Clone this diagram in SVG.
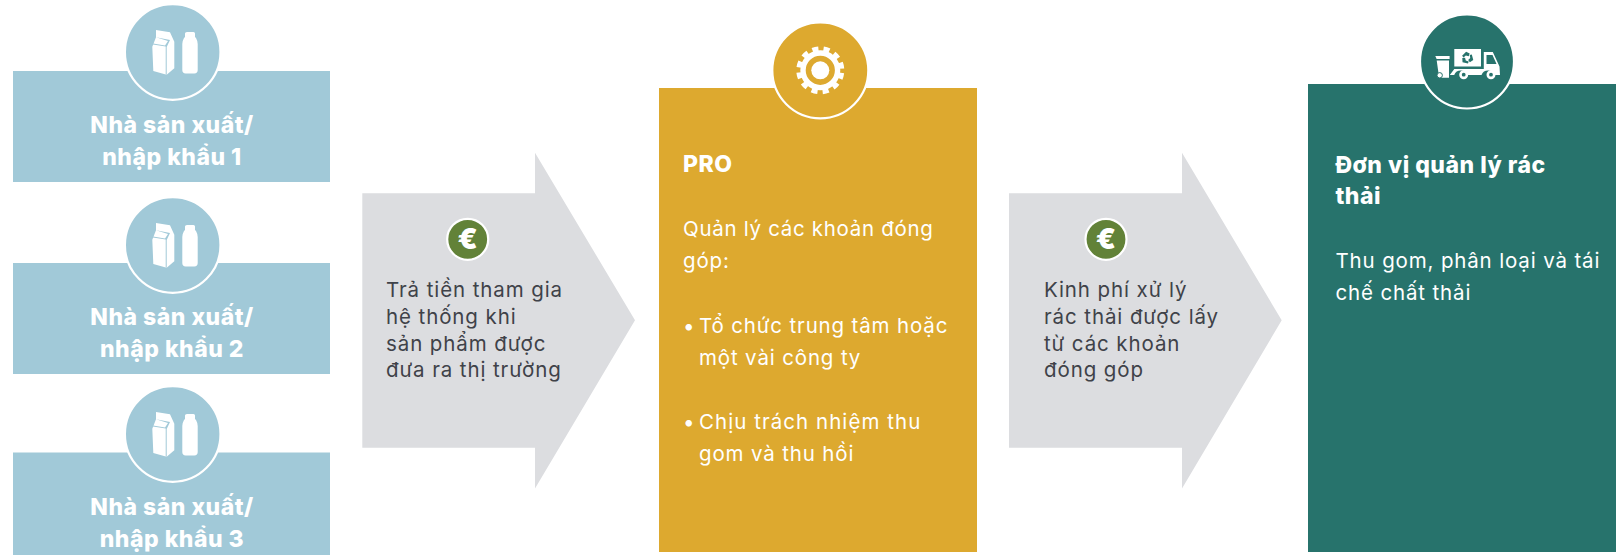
<svg xmlns="http://www.w3.org/2000/svg" width="1616" height="555" viewBox="0 0 1616 555">
<style>
text{font-family:Inter,"Noto Sans","Liberation Sans",sans-serif}
.h{font-size:23px;font-weight:800;fill:#fff;letter-spacing:.5px}
.c{text-anchor:middle}
.b{font-size:20.500px;fill:#fff;letter-spacing:.85px}
.a{font-size:20.500px;fill:#3f4249;letter-spacing:.9px}
.ring{stroke:#fff;stroke-width:2.200}
.blue{fill:#a1c9d8}.gold{fill:#dda92f}.teal{fill:#27736c}.grey{fill:#dcdde0}.green{fill:#628238}
</style>
<defs>
<g id="pack">
<path fill="#fff" d="M156 30 170 32.300 174.300 41.700V68.300L166.700 74.700 153.300 71 152.300 46.700 156 37.300Z"/>
<path fill="#a1c9d8" d="M156 37.300 170 40 166.700 47V74.700H165.700V46.500L153 44.500 153 43.500 165 45.500 168 41Z"/>
<path fill="#fff" d="M187 32h6.500q1.500 0 1.500 1.500V37l1 1q1.700 3 1.700 6v26q0 3.400-3.400 3.400H185.700q-3.400 0-3.400-3.400V44q0-3 1.700-6l1-1V33.500q0-1.500 2-1.500Z"/>
</g>
<g id="coin">
<circle r="20.500" class="green ring"/>
<text y="10" class="c" style="font-size:29px;font-weight:900;fill:#fff;letter-spacing:0">€</text>
</g>
<path id="rec" class="teal" d="M-1.200-6.200 2.400-4.400 1.400-1.800-1.400-2.600-3.800-.6-5.200-2.200Z"/>
</defs>
<g id="connectors">
<path id="arrow-1" class="grey" d="M362.300 193.300H535V152.700L635 320.300 535 488.500V447.700H362.300Z"/>
<path id="arrow-2" class="grey" d="M1009 193.300H1182V152.700L1281.700 320.300 1182 488.500V447.700H1009Z"/>
</g>
<g id="producer-1">
<rect class="blue" x="13" y="71" width="317" height="111"/>
<circle class="blue ring" cx="172.700" cy="52" r="47.800"/>
<use href="#pack"/>
<text class="h c" x="172" y="133">Nhà sản xuất/</text>
<text class="h c" x="172" y="165">nhập khẩu 1</text>
</g>
<g id="producer-2">
<rect class="blue" x="13" y="263" width="317" height="111"/>
<circle class="blue ring" cx="172.700" cy="245" r="47.800"/>
<use href="#pack" y="193"/>
<text class="h c" x="172" y="325">Nhà sản xuất/</text>
<text class="h c" x="172" y="357">nhập khẩu 2</text>
</g>
<g id="producer-3">
<rect class="blue" x="13" y="452.500" width="317" height="102.500"/>
<circle class="blue ring" cx="172.700" cy="434" r="47.800"/>
<use href="#pack" y="382"/>
<text class="h c" x="172" y="515">Nhà sản xuất/</text>
<text class="h c" x="172" y="547">nhập khẩu 3</text>
</g>
<g id="payment-1">
<use href="#coin" x="467.700" y="239.300"/>
<text class="a" x="386" y="297">Trả tiền tham gia</text>
<text class="a" x="386" y="324">hệ thống khi</text>
<text class="a" x="386" y="351">sản phẩm được</text>
<text class="a" x="386" y="377">đưa ra thị trường</text>
</g>
<g id="payment-2">
<use href="#coin" x="1106" y="239.300"/>
<text class="a" x="1044" y="297">Kinh phí xử lý</text>
<text class="a" x="1044" y="324">rác thải được lấy</text>
<text class="a" x="1044" y="351">từ các khoản</text>
<text class="a" x="1044" y="377">đóng góp</text>
</g>
<g id="pro">
<rect class="gold" x="659" y="88" width="318" height="464"/>
<circle class="gold ring" cx="820.300" cy="70.300" r="48"/>
<circle cx="820.300" cy="70.300" r="9" fill="#fff"/>
<circle cx="820.300" cy="70.300" r="17.300" fill="none" stroke="#fff" stroke-width="5.400"/>
<circle cx="820.300" cy="70.300" r="21.500" fill="none" stroke="#fff" stroke-width="5" stroke-dasharray="6 5.260" stroke-dashoffset="-2.630"/>
<text class="h" x="683" y="172">PRO</text>
<text class="b" x="683" y="236" style="letter-spacing:.7px">Quản lý các khoản đóng</text>
<text class="b" x="683" y="268">góp:</text>
<text class="b" x="683" y="333">•</text>
<text class="b" x="699" y="333">Tổ chức trung tâm hoặc</text>
<text class="b" x="699" y="365">một vài công ty</text>
<text class="b" x="683" y="429">•</text>
<text class="b" x="699" y="429" style="letter-spacing:1.05px">Chịu trách nhiệm thu</text>
<text class="b" x="699" y="461">gom và thu hồi</text>
</g>
<g id="waste-operator">
<rect class="teal" x="1308" y="84" width="308" height="468"/>
<circle class="teal ring" cx="1467" cy="61.500" r="47"/>
<path fill="#fff" d="M1435.300 56h14.300v3h-13ZM1436.700 60.500h12.300V77.700h-9v-3l-1.500-1.500ZM1454.300 49h26.700v17.500h-26.700ZM1454.300 69h29.500V52h9l6.700 14.500 .5 8.500h-5.500a7 7 0 0 0-13 0h-14.300a7 7 0 0 0-13 0h-4.400Z"/>
<path class="teal" d="M1486.500 55h6l4 9h-10Z"/>
<circle cx="1439.700" cy="75.300" r="2.700" fill="#fff" stroke="#27736c"/>
<circle cx="1463.700" cy="74.700" r="3.200" class="teal" stroke="#fff" stroke-width="2.600"/>
<circle cx="1491" cy="74.700" r="3.200" class="teal" stroke="#fff" stroke-width="2.600"/>
<use href="#rec" transform="translate(1467.300 58)"/>
<use href="#rec" transform="translate(1467.300 58) rotate(120)"/>
<use href="#rec" transform="translate(1467.300 58) rotate(240)"/>
<text class="h" x="1335.500" y="173">Đơn vị quản lý rác</text>
<text class="h" x="1335.500" y="204">thải</text>
<text class="b" x="1335.500" y="268">Thu gom, phân loại và tái</text>
<text class="b" x="1335.500" y="300">chế chất thải</text>
</g>
</svg>
